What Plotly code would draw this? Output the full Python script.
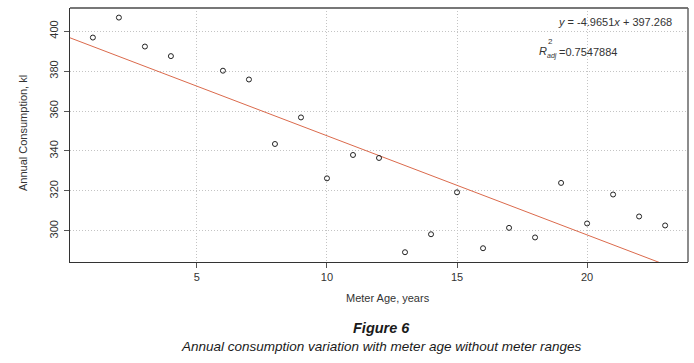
import plotly.graph_objects as go

# Data
meter_age = [1, 2, 3, 4, 6, 7, 8, 9, 10, 11, 12, 13, 14, 15, 16, 17, 18, 19, 20, 21, 22, 23]
consumption = [396.8, 406.8, 392.3, 387.5, 380.2, 375.8, 343.5, 356.8, 326.3, 338.0, 336.5,
               289.3, 298.3, 319.3, 291.3, 301.5, 296.7, 324.0, 303.7, 318.2, 307.2, 302.7]
fit_slope = -4.9651
fit_intercept = 397.268
r2_adj = 0.7547884
x_ticks = [5, 10, 15, 20]
y_ticks = [300, 320, 340, 360, 380, 400]

x_range = [0.12, 23.88]
y_range = [284.4, 411.6]

W, H = 694, 363
L, R, T, B = 70, 6, 8, 101

fig = go.Figure()

fit_x = list(x_range)
fit_y = [fit_intercept + fit_slope * v for v in fit_x]
fig.add_trace(go.Scatter(x=fit_x, y=fit_y, mode="lines",
                         line=dict(color="#DB6A4C", width=1), hoverinfo="skip",
                         showlegend=False, cliponaxis=True))
fig.add_trace(go.Scatter(x=meter_age, y=consumption, mode="markers",
                         marker=dict(symbol="circle-open", size=5, color="#222222",
                                     line=dict(width=1, color="#222222")),
                         showlegend=False))

axis_font = dict(family="Liberation Sans, Arial, sans-serif", size=11, color="#333333")

fig.update_layout(
    width=W, height=H,
    margin=dict(l=L, r=R, t=T, b=B),
    paper_bgcolor="white", plot_bgcolor="white",
    font=axis_font,
    xaxis=dict(range=x_range, tickvals=x_ticks, ticks="outside", ticklen=5, tickcolor="#555555",
               showgrid=True, gridcolor="#c4c4c4", griddash="1px,2px", gridwidth=1,
               showline=True, linecolor="#333333", linewidth=1, zeroline=False,
               tickfont=axis_font, ticklabelstandoff=0),
    yaxis=dict(range=y_range, tickvals=y_ticks, ticks="outside", ticklen=5, tickcolor="#555555",
               showgrid=True, gridcolor="#c4c4c4", griddash="1px,2px", gridwidth=1,
               showline=True, linecolor="#333333", linewidth=1, zeroline=False,
               tickangle=-90, tickfont=axis_font, ticklabelstandoff=2),
)

# top and right frame borders
fig.add_shape(type="line", xref="paper", yref="paper", x0=0, x1=1, y0=1, y1=1,
              line=dict(color="#777777", width=2))
fig.add_shape(type="line", xref="paper", yref="paper", x0=1, x1=1, y0=0, y1=1,
              line=dict(color="#666666", width=1.5))

pw = W - L - R
ph = H - T - B
def px(xp):
    return (xp - L) / pw
def py(yp):
    return (T + ph - yp) / ph

eq_text = f"<i>y</i> = {fit_slope:.4f}<i>x</i> + {fit_intercept:.3f}"
fig.add_annotation(x=px(674), y=py(22), xref="paper", yref="paper", text=eq_text,
                   showarrow=False, xanchor="right", yanchor="middle", font=axis_font)
fig.add_annotation(x=px(537), y=py(51), xref="paper", yref="paper", text="<i>R</i>",
                   showarrow=False, xanchor="left", yanchor="middle", font=axis_font)
fig.add_annotation(x=px(546), y=py(42), xref="paper", yref="paper", text="2",
                   showarrow=False, xanchor="left", yanchor="middle",
                   font=dict(family=axis_font["family"], size=8, color="#333333"))
fig.add_annotation(x=px(545), y=py(56), xref="paper", yref="paper", text="<i>adj</i>",
                   showarrow=False, xanchor="left", yanchor="middle",
                   font=dict(family=axis_font["family"], size=7, color="#333333"))
fig.add_annotation(x=px(557), y=py(52), xref="paper", yref="paper", text=f"={r2_adj}",
                   showarrow=False, xanchor="left", yanchor="middle", font=axis_font)

# axis titles
fig.add_annotation(x=px(388), y=py(298), xref="paper", yref="paper", text="Meter Age, years",
                   showarrow=False, xanchor="center", yanchor="middle", font=axis_font)
fig.add_annotation(x=px(23), y=py(133), xref="paper", yref="paper", text="Annual Consumption, kl",
                   showarrow=False, xanchor="center", yanchor="middle", textangle=-90, font=axis_font)

# caption
cap_font = dict(family="Liberation Sans Narrow, Arial Narrow, sans-serif", size=13.5, color="#1a1a1a")
fig.add_annotation(x=px(381), y=py(328), xref="paper", yref="paper", text="<b><i>Figure 6</i></b>",
                   showarrow=False, xanchor="center", yanchor="middle",
                   font=dict(family=cap_font["family"], size=14.5, color="#1a1a1a"))
fig.add_annotation(x=px(381), y=py(346), xref="paper", yref="paper",
                   text="<i>Annual consumption variation with meter age without meter ranges</i>",
                   showarrow=False, xanchor="center", yanchor="middle", font=cap_font)

fig.write_html("out.html", config={"displayModeBar": False},
               post_script="document.body.style.margin='0';")
